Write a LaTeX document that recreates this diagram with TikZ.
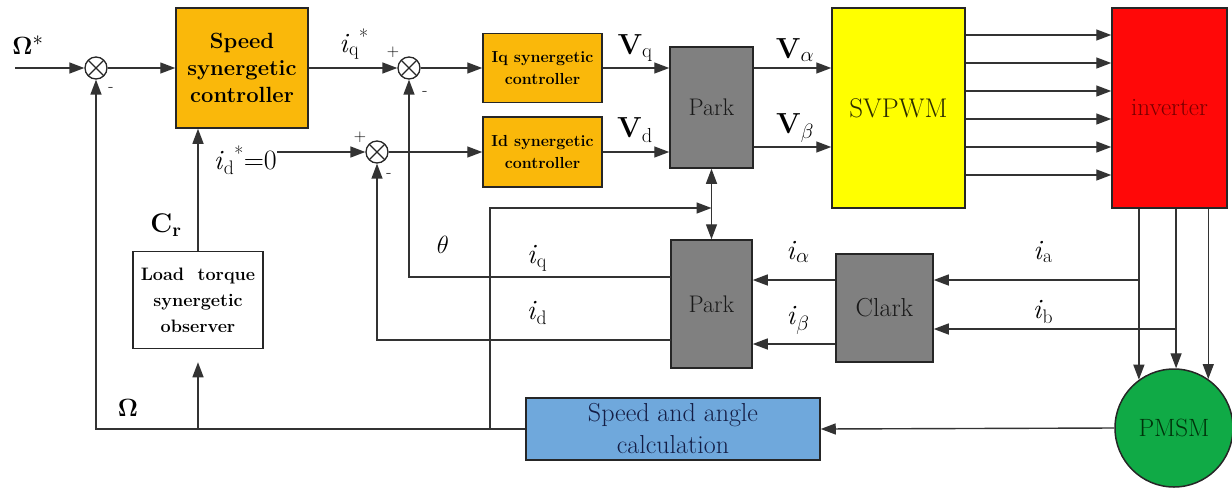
\documentclass[tikz,border=0pt]{standalone}
\usetikzlibrary{arrows.meta,positioning}
\definecolor{ctrlorange}{RGB}{250,184,10}
\definecolor{pwmyellow}{RGB}{255,255,0}
\definecolor{pwmtext}{RGB}{45,45,0}
\definecolor{invred}{RGB}{255,8,8}
\definecolor{invtext}{RGB}{120,0,0}
\definecolor{parkgray}{RGB}{128,128,128}
\definecolor{calcblue}{RGB}{111,168,220}
\definecolor{calctext}{RGB}{20,30,70}
\definecolor{motorgreen}{RGB}{16,170,70}
\definecolor{motortext}{RGB}{0,50,10}
\tikzset{
  blk/.style={draw=black!85, line width=1.5pt, inner sep=0pt, align=center},
  summer/.style={circle, draw=black!85, line width=1.3pt, minimum size=22pt, inner sep=0pt,
    path picture={\draw[line width=1.3pt, black!85]
      (path picture bounding box.north west) -- (path picture bounding box.south east)
      (path picture bounding box.north east) -- (path picture bounding box.south west);}},
  sig/.style={draw=black!80, line width=1.4pt},
  arr/.style={sig, -{Triangle[length=15pt,width=11pt]}},
  lbl/.style={font=\fontsize{28}{30}\selectfont, inner sep=0pt},
  vlbl/.style={font=\bfseries\fontsize{29}{32}\selectfont, inner sep=0pt},
  sgn/.style={font=\fontsize{17}{17}\selectfont, inner sep=0pt},
}
\begin{document}
\begin{tikzpicture}[x=1pt,y=-1pt]
    \useasboundingbox (0,0) rectangle (1232,491);

    % Controllers
    \node[blk, fill=ctrlorange, minimum width=132pt, minimum height=120pt, font=\bfseries\fontsize{22}{27}\selectfont] (spd) at (242,68) {Speed\\synergetic\\controller};
    \node[blk, fill=ctrlorange, minimum width=119pt, minimum height=69pt, font=\bfseries\fontsize{16}{22}\selectfont] (iqc) at (542.5,68) {Iq synergetic\\controller};
    \node[blk, fill=ctrlorange, minimum width=119pt, minimum height=70pt, font=\bfseries\fontsize{16}{22}\selectfont] (idc) at (542.5,152) {Id synergetic\\controller};
    \node[blk, fill=white, minimum width=130pt, minimum height=97pt, font=\bfseries\fontsize{18}{26}\selectfont] (obs) at (198,300) {Load\ \ torque\\synergetic\\observer};

    % Transformations and power stage
    \node[blk, fill=parkgray, minimum width=83pt, minimum height=121pt, font=\fontsize{24}{28}\selectfont, text=black!90] (parkv) at (711.5,107.5) {Park};
    \node[blk, fill=parkgray, minimum width=81pt, minimum height=128pt, font=\fontsize{24}{28}\selectfont, text=black!90] (parki) at (711.5,304) {Park};
    \node[blk, fill=parkgray, minimum width=97pt, minimum height=108pt, font=\fontsize{26}{30}\selectfont, text=black!90] (clark) at (884.5,308) {Clark};
    \node[blk, fill=pwmyellow, minimum width=133pt, minimum height=200pt, font=\fontsize{27}{30}\selectfont, text=pwmtext] (pwm) at (898.5,108) {SVPWM};
    \node[blk, fill=invred, minimum width=115pt, minimum height=200pt, font=\fontsize{25}{30}\selectfont, text=invtext] (inv) at (1169.5,108) {inverter};
    \node[blk, fill=calcblue, minimum width=294pt, minimum height=62pt, font=\fontsize{26}{32}\selectfont, text=calctext] (calc) at (673,429) {Speed and angle\\calculation};
    \node[circle, draw=black!85, line width=1.5pt, fill=motorgreen, minimum size=118pt, inner sep=0pt, font=\fontsize{25}{29}\selectfont, text=motortext] (pmsm) at (1174,428) {PMSM};

    % Summing junctions
    \node[summer] (sumw) at (96,68) {};
    \node[summer] (sumq) at (409,68) {};
    \node[summer] (sumd) at (377,152) {};
    \node[sgn] (mw) at (111,89) {-};
    \node[sgn] (pq) at (393,52) {+};
    \node[sgn] (mq) at (425,93) {-};
    \node[sgn] (pd) at (360,137) {+};
    \node[sgn] (md) at (389,175) {-};

    % Free ends and branch points
    \coordinate (win) at (15,68);
    \coordinate (thb) at (490,429); % theta branch
    \coordinate (tht) at (711.5,208);
    \coordinate (iqo) at (671,277);
    \coordinate (ido) at (671,340);
    \coordinate (iao) at (1139,280);
    \coordinate (ibo) at (1176,329);

    % Forward path
    \draw[arr] (win) -- (sumw.west);
    \draw[arr] (sumw.east) -- (spd.west);
    \draw[arr] (spd.east) -- (sumq.west);
    \draw[arr] (sumq.east) -- (iqc.west);
    \node[lbl, anchor=east] (lidr) at (277,160) {\textit{i}\textsubscript{d}\textsuperscript{*}=0};
    \draw[arr] (lidr.east |- sumd) -- (sumd.west);
    \draw[arr] (sumd.east) -- (idc.west);
    \draw[arr] (iqc.east) -- (iqc.east -| parkv.west);
    \draw[arr] (idc.east) -- (idc.east -| parkv.west);
    \draw[arr] (parkv.east |- iqc.east) -- (pwm.west |- iqc.east);
    \draw[arr] (parkv.east |- 0,147) -- (pwm.west |- 0,147);

    % SVPWM to inverter
    \draw[arr] (pwm.east |- 0,35) -- (inv.west |- 0,35);
    \draw[arr] (pwm.east |- 0,63) -- (inv.west |- 0,63);
    \draw[arr] (pwm.east |- 0,91) -- (inv.west |- 0,91);
    \draw[arr] (pwm.east |- 0,119) -- (inv.west |- 0,119);
    \draw[arr] (pwm.east |- 0,147) -- (inv.west |- 0,147);
    \draw[arr] (pwm.east |- 0,175) -- (inv.west |- 0,175);

    % Inverter to motor
    \draw[arr] (pmsm.126 |- inv.south) -- (pmsm.126);
    \draw[arr] (pmsm.88 |- inv.south) -- (pmsm.88);
    \draw[arr] (pmsm.55 |- inv.south) -- (pmsm.55);

    % Current measurement
    \draw[arr] (iao) -- (clark.east |- iao);
    \draw[arr] (ibo) -- (clark.east |- ibo);
    \draw[arr] (clark.west |- iao) -- (parki.east |- iao);
    \draw[arr] (clark.west |- 0,344) -- (parki.east |- 0,344);
    \draw[arr] (iqo) -| (sumq.south);
    \draw[arr] (ido) -| (sumd.south);

    % Speed and angle feedback
    \draw[arr] (pmsm.west) -- (calc.east);
    \draw[arr] (calc.west) -| (sumw.south);
    \draw[arr, shorten >=13pt] (obs.south |- calc.west) -- (obs.south);
    \draw[arr] (obs.north) -- (obs.north |- spd.south);
    \draw[arr] (thb) |- (tht);
    \draw[sig, {Triangle[length=15pt,width=11pt]}-{Triangle[length=15pt,width=11pt]}] (parkv.south) -- (parki.north);

    % Signal labels
    \node[lbl] (lomr) at (28,45) {$\mathbf{\Omega}^*$};
    \node[lbl] (liqr) at (354,44) {\textit{i}\textsubscript{q}\textsuperscript{*}};
    \node[lbl, font=\bfseries\fontsize{27}{30}\selectfont] (lcr) at (166,225) {C\textsubscript{r}};
    \node[lbl] (lom) at (128,408) {$\mathbf{\Omega}$};
    \node[lbl] (lth) at (443,245) {$\theta$};
    \node[lbl] (liq) at (537,258) {\textit{i}\textsubscript{q}};
    \node[lbl] (lid) at (537,313) {\textit{i}\textsubscript{d}};
    \node[lbl] (lia) at (798,252) {\textit{i}\textsubscript{$\alpha$}};
    \node[lbl] (lib) at (798,320) {\textit{i}\textsubscript{$\beta$}};
    \node[lbl] (lisa) at (1043,252) {\textit{i}\textsubscript{a}};
    \node[lbl] (lisb) at (1043,312) {\textit{i}\textsubscript{b}};
    \node[vlbl] (lvq) at (635,48) {V\textsubscript{\mdseries q}};
    \node[vlbl] (lvd) at (635,130) {V\textsubscript{\mdseries d}};
    \node[vlbl] (lva) at (795,50) {V\textsubscript{\mdseries$\alpha$}};
    \node[vlbl] (lvb) at (795,128) {V\textsubscript{\mdseries$\beta$}};
\end{tikzpicture}
\end{document}
